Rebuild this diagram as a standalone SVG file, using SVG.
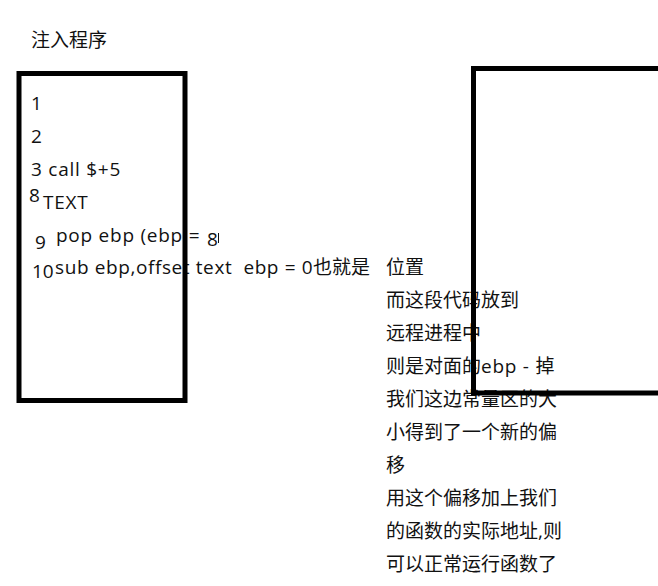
<svg xmlns="http://www.w3.org/2000/svg" width="658" height="586" viewBox="0 0 658 586">
<style>
text{font-family:"Open Sans","Noto Sans CJK SC",sans-serif;font-size:19px;fill:#111;white-space:pre}
.l{letter-spacing:0.75px}
.m{letter-spacing:0.6px}
.box{fill:none;stroke:#000;stroke-width:5}
</style>
<rect width="658" height="586" fill="#fff"/>
<g id="title"><text x="31" y="47">注入程序</text></g>
<g id="code">
<text x="31" y="110">1</text>
<text x="31" y="143">2</text>
<text class="l" x="31" y="176">3 call $+5</text>
<text x="29" y="202">8</text>
<text class="l" x="43" y="209">TEXT</text>
<text x="35" y="249">9</text>
<text class="l" x="56" y="242">pop ebp (ebp =</text>
<text x="207" y="246">8</text>
<line x1="218.5" y1="233" x2="218.5" y2="243" stroke="#111" stroke-width="1"/>
<text x="32" y="278">10</text>
<text x="55" y="274"><tspan class="m">sub ebp,offset text  ebp = 0</tspan>也就是</text>
</g>
<g id="notes">
<text x="386" y="274">位置</text>
<text x="386" y="307">而这段代码放到</text>
<text x="386" y="340">远程进程中</text>
<text x="386" y="373">则是对面的<tspan class="l">ebp - </tspan>掉</text>
<text x="386" y="406">我们这边常量区的大</text>
<text x="386" y="439">小得到了一个新的偏</text>
<text x="386" y="472">移</text>
<text x="386" y="505">用这个偏移加上我们</text>
<text x="386" y="538">的函数的实际地址,则</text>
<text x="386" y="571">可以正常运行函数了</text>
</g>
<g id="local-box"><rect class="box" x="19" y="73.5" width="166" height="327"/></g>
<g id="remote-box"><rect class="box" x="473.5" y="68.5" width="200" height="324.5"/></g>
</svg>
